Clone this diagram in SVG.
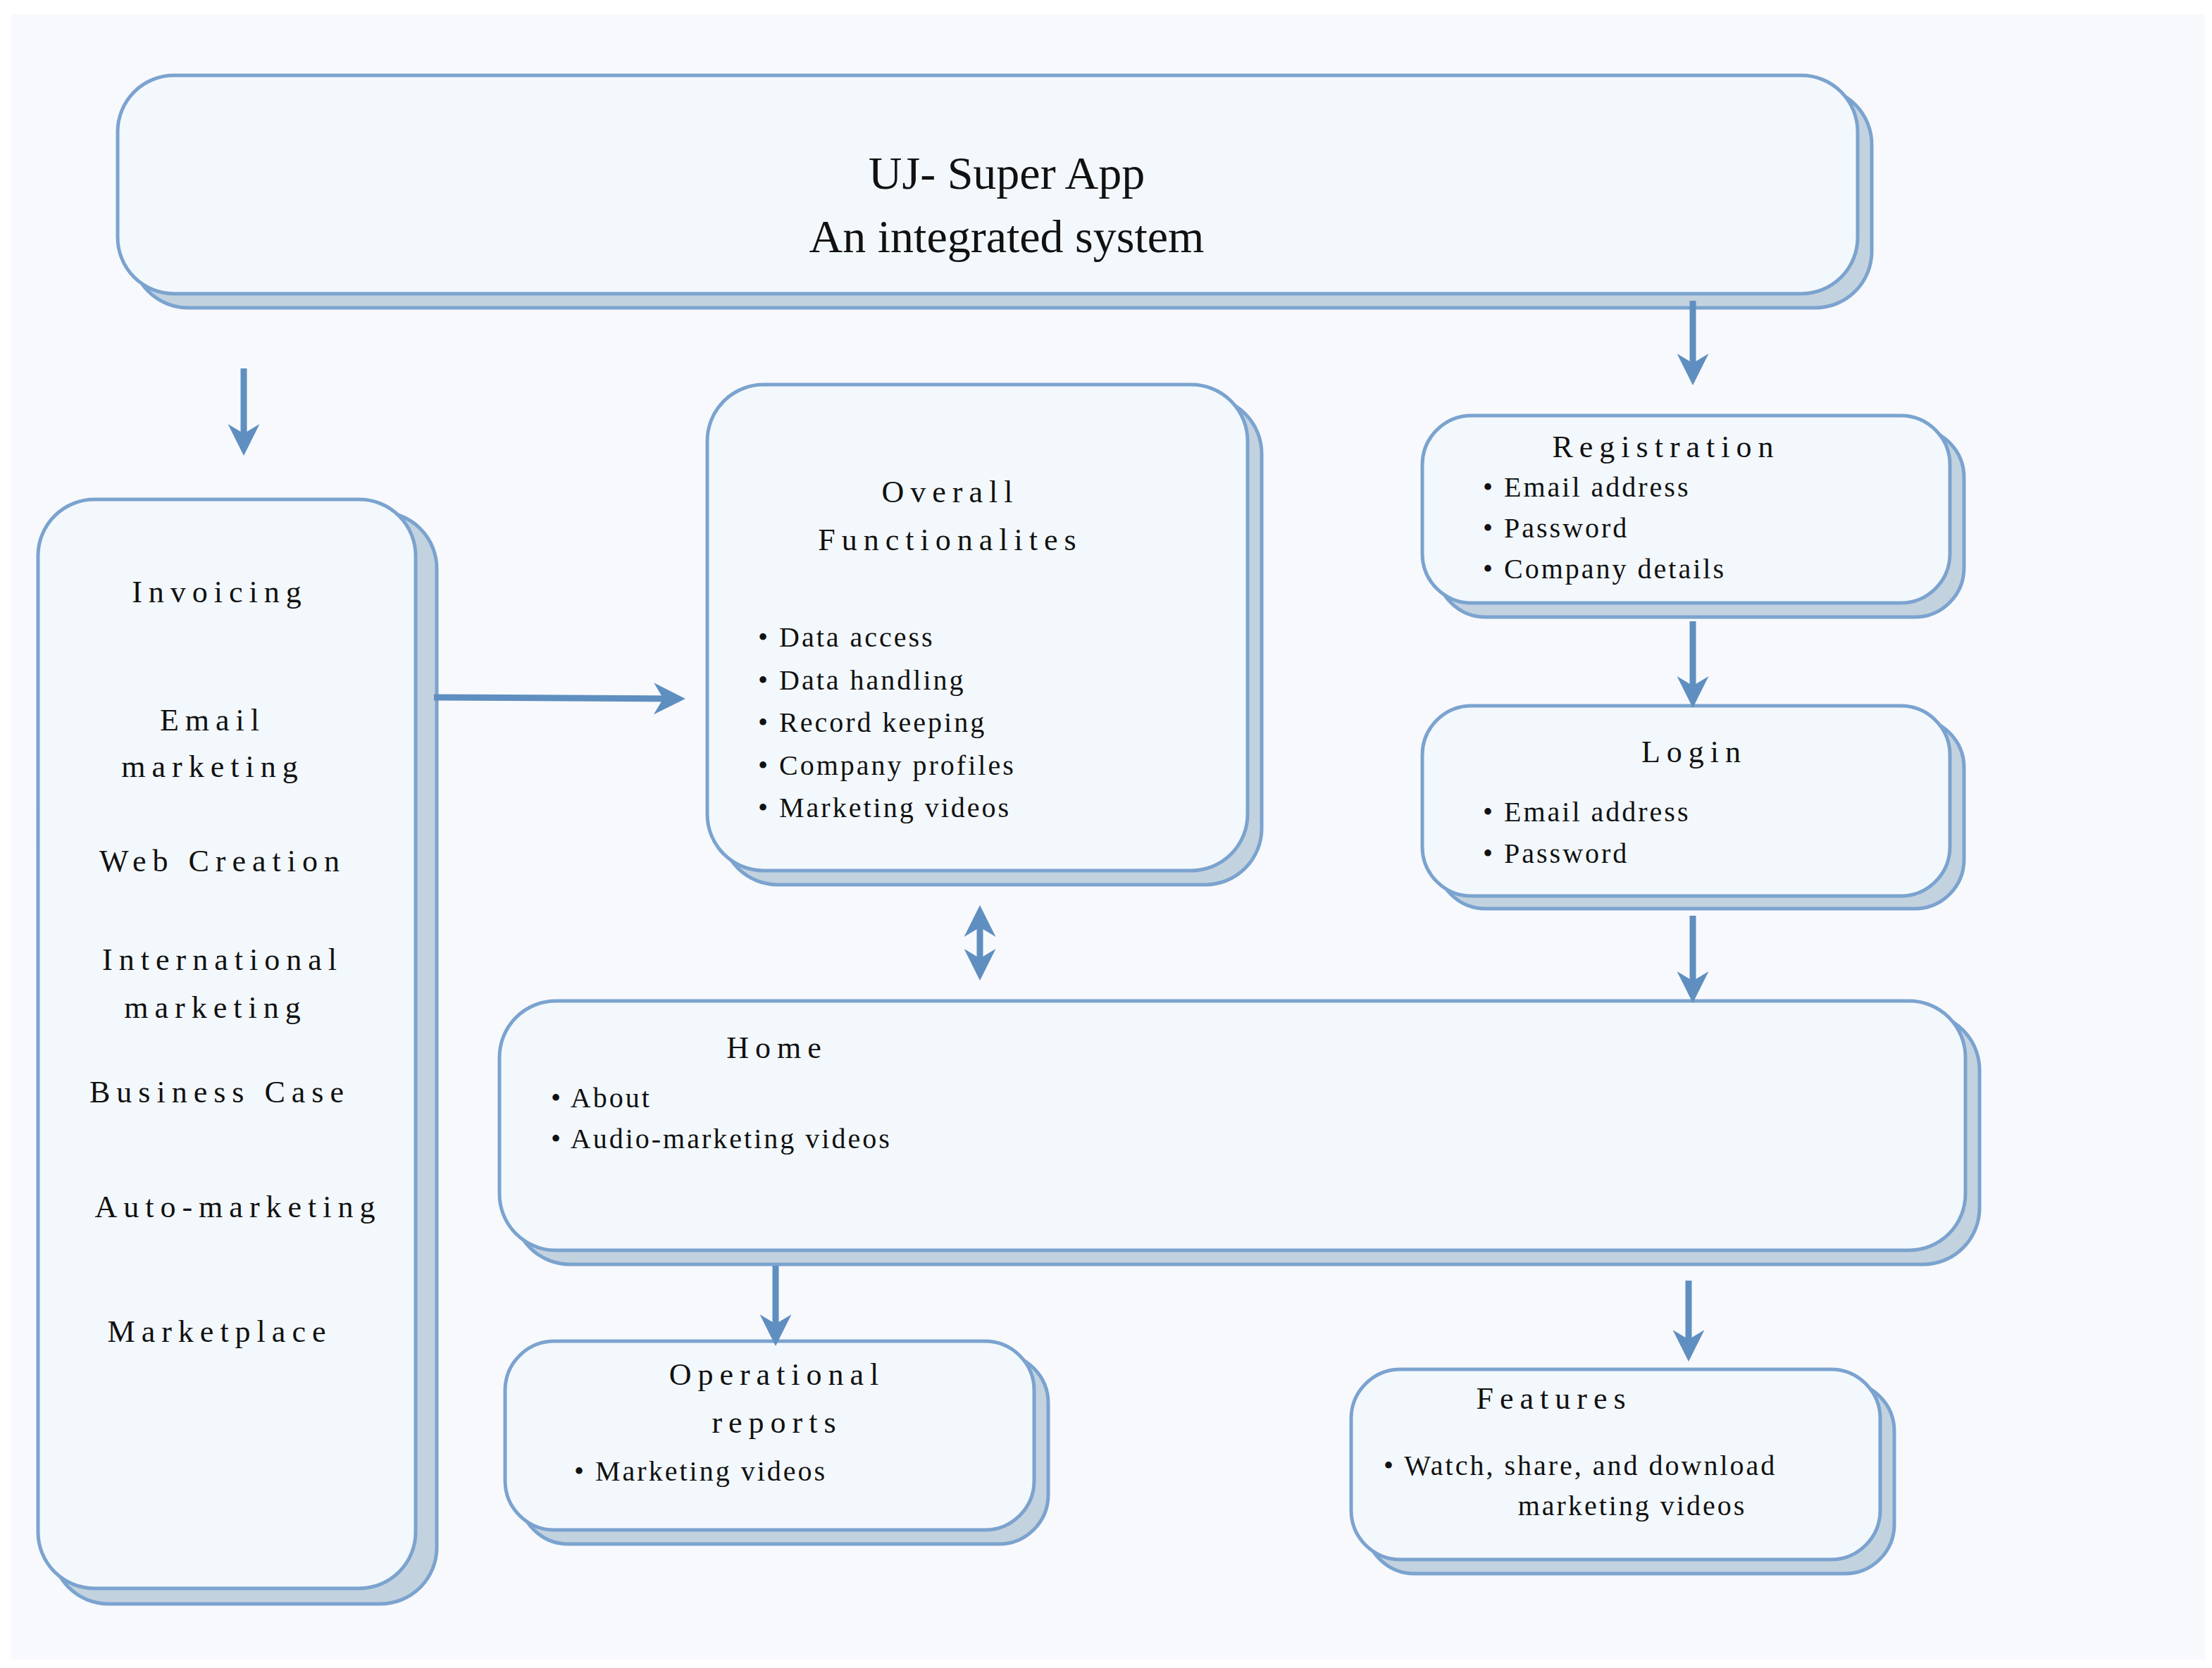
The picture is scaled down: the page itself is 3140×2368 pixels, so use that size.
<svg xmlns="http://www.w3.org/2000/svg" width="3140" height="2368" viewBox="0 0 3140 2368">
<defs>
<style>
.sh{fill:#c3d2df;stroke:#7ba3cf;stroke-width:5}
.bx{fill:#f3f8fc;stroke:#7ba3cf;stroke-width:5}
text{font-family:"Liberation Serif","Times New Roman",serif;fill:#111}
.t{font-size:44px;letter-spacing:9px;text-anchor:middle}
.b{font-size:40px;letter-spacing:3px}
.main{font-size:66px;text-anchor:middle}
.ar{stroke:#5f8fc0;stroke-width:9;fill:none}
</style>
<marker id="ah" viewBox="0 0 10 10" refX="8" refY="5" markerWidth="5" markerHeight="5" orient="auto-start-reverse" markerUnits="strokeWidth">
<path d="M0,0 L10,5 L0,10 L3,5 Z" fill="#5f8fc0"/>
</marker>
</defs>
<rect width="3140" height="2368" fill="#fff"/>
<rect x="16" y="20" width="3114" height="2336" fill="#f8f9fd"/>
<g id="top">
<rect class="sh" x="187" y="125" width="2470" height="312" rx="80"/>
<rect class="bx" x="167" y="107" width="2470" height="310" rx="80"/>
<text class="main" x="1429" y="268">UJ- Super App</text>
<text class="main" x="1429" y="358">An integrated system</text>
</g>
<g id="left">
<rect class="sh" x="74" y="727" width="546" height="1550" rx="80"/>
<rect class="bx" x="54" y="709" width="536" height="1546" rx="80"/>
<text class="t" x="312" y="855">Invoicing</text>
<text class="t" x="302" y="1037">Email</text>
<text class="t" x="302" y="1103">marketing</text>
<text class="t" x="316" y="1237">Web Creation</text>
<text class="t" x="316" y="1377">International</text>
<text class="t" x="306" y="1445">marketing</text>
<text class="t" x="312" y="1565">Business Case</text>
<text class="t" x="338" y="1728">Auto-marketing</text>
<text class="t" x="312" y="1905">Marketplace</text>
</g>
<g id="overall">
<rect class="sh" x="1024" y="564" width="767" height="692" rx="80"/>
<rect class="bx" x="1004" y="546" width="767" height="690" rx="80"/>
<text class="t" x="1349" y="713">Overall</text>
<text class="t" x="1349" y="781">Functionalites</text>
<g class="b">
<text x="1076" y="918">•  Data access</text>
<text x="1076" y="979">•  Data handling</text>
<text x="1076" y="1039">•  Record keeping</text>
<text x="1076" y="1100">•  Company profiles</text>
<text x="1076" y="1160">•  Marketing videos</text>
</g>
</g>
<g id="registration">
<rect class="sh" x="2039" y="608" width="749" height="268" rx="70"/>
<rect class="bx" x="2019" y="590" width="749" height="266" rx="70"/>
<text class="t" x="2365" y="649">Registration</text>
<g class="b">
<text x="2105" y="705">•  Email address</text>
<text x="2105" y="763">•  Password</text>
<text x="2105" y="821">•  Company details</text>
</g>
</g>
<g id="login">
<rect class="sh" x="2039" y="1020" width="749" height="270" rx="70"/>
<rect class="bx" x="2019" y="1002" width="749" height="270" rx="70"/>
<text class="t" x="2405" y="1082">Login</text>
<g class="b">
<text x="2105" y="1166">•  Email address</text>
<text x="2105" y="1225">•  Password</text>
</g>
</g>
<g id="home">
<rect class="sh" x="729" y="1439" width="2081" height="356" rx="80"/>
<rect class="bx" x="709" y="1421" width="2081" height="354" rx="80"/>
<text class="t" x="1103" y="1502">Home</text>
<g class="b">
<text x="782" y="1572">•  About</text>
<text x="782" y="1630">•  Audio-marketing videos</text>
</g>
</g>
<g id="operational">
<rect class="sh" x="737" y="1922" width="751" height="270" rx="70"/>
<rect class="bx" x="717" y="1904" width="751" height="268" rx="70"/>
<text class="t" x="1103" y="1966">Operational</text>
<text class="t" x="1103" y="2034">reports</text>
<text class="b" x="815" y="2102">•  Marketing videos</text>
</g>
<g id="features">
<rect class="sh" x="1938" y="1962" width="751" height="272" rx="70"/>
<rect class="bx" x="1918" y="1944" width="751" height="270" rx="70"/>
<text class="t" x="2206" y="2000">Features</text>
<text class="b" x="1964" y="2094">•  Watch, share, and download</text>
<text class="b" x="2317" y="2151" text-anchor="middle">marketing videos</text>
</g>
<g id="connectors">
<line class="ar" x1="346" y1="523" x2="346" y2="638" marker-end="url(#ah)"/>
<line class="ar" x1="2403" y1="427" x2="2403" y2="538" marker-end="url(#ah)"/>
<line class="ar" x1="616" y1="990" x2="964" y2="992" marker-end="url(#ah)"/>
<line class="ar" x1="2403" y1="882" x2="2403" y2="996" marker-end="url(#ah)"/>
<line class="ar" x1="1391" y1="1294" x2="1391" y2="1383" marker-start="url(#ah)" marker-end="url(#ah)"/>
<line class="ar" x1="2403" y1="1300" x2="2403" y2="1415" marker-end="url(#ah)"/>
<line class="ar" x1="1101" y1="1797" x2="1101" y2="1902" marker-end="url(#ah)"/>
<line class="ar" x1="2397" y1="1818" x2="2397" y2="1924" marker-end="url(#ah)"/>
</g>
</svg>
